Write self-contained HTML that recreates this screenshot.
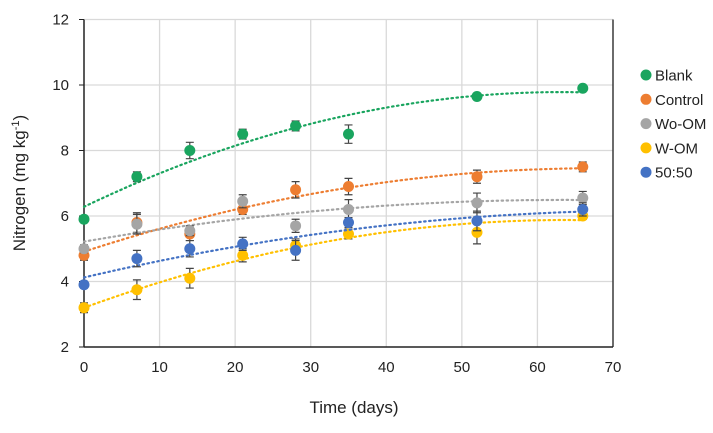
<!DOCTYPE html>
<html><head><meta charset="utf-8"><style>
body{margin:0;background:#fff;font-family:"Liberation Sans",sans-serif}
svg text{font-family:"Liberation Sans",sans-serif;fill:#222}
</style></head><body>
<svg id="chart" width="713" height="428" viewBox="0 0 713 428">
<g id="grid"></g><g id="axes"></g><g id="series"></g><g id="legend"></g>
<text x="354" y="413" font-size="17" text-anchor="middle">Time (days)</text>
<text transform="translate(25,183) rotate(-90)" font-size="17" text-anchor="middle">Nitrogen (mg kg<tspan dy="-6" font-size="11">-1</tspan><tspan dy="6">)</tspan></text>
</svg>
<script>
const days=[0,7,14,21,28,35,52,66];
const seriesNames=["Blank","Control","Wo-OM","W-OM","50:50"];
const colors=["#1aa55f","#ed7d31","#a5a5a5","#ffc000","#4472c4"];
const blank=[5.9,7.2,8.0,8.5,8.75,8.5,9.65,9.9];
const control=[4.8,5.8,5.45,6.2,6.8,6.9,7.2,7.5];
const woOm=[5.0,5.75,5.55,6.45,5.7,6.2,6.4,6.55];
const wOm=[3.2,3.75,4.1,4.8,5.1,5.45,5.5,6.0];
const fifty=[3.9,4.7,5.0,5.15,4.95,5.8,5.85,6.2];
const errBlank=[0.1,0.15,0.25,0.15,0.15,0.28,0.1,0.08];
const errControl=[0.15,0.3,0.2,0.15,0.25,0.25,0.2,0.15];
const errWoOm=[0.12,0.3,0.15,0.2,0.2,0.3,0.3,0.2];
const errWOm=[0.15,0.3,0.3,0.2,0.2,0.15,0.35,0.1];
const errFifty=[0.1,0.25,0.25,0.2,0.3,0.15,0.3,0.2];
const xTicks=[0,10,20,30,40,50,60,70];
const yTicks=[2,4,6,8,10,12];
const allVals=[blank,control,woOm,wOm,fifty];
const allErr=[errBlank,errControl,errWoOm,errWOm,errFifty];
const NS="http://www.w3.org/2000/svg";
const X=v=>84+v*(613-84)/70, Y=v=>347-(v-2)*(347-19.5)/10;
function mk(tag,attrs,parent){const e=document.createElementNS(NS,tag);for(const k in attrs)e.setAttribute(k,attrs[k]);parent.appendChild(e);return e;}
const grid=document.getElementById('grid'),axes=document.getElementById('axes'),ser=document.getElementById('series'),leg=document.getElementById('legend');
xTicks.forEach(t=>{if(t>0){const l=mk('line',{x1:X(t),x2:X(t),y1:Y(12),y2:Y(2),stroke:'#d9d9d9','stroke-width':1.3},grid);

}
const tx=mk('text',{x:X(t),y:372,'font-size':15,'text-anchor':'middle'},axes);tx.textContent=t;

});
yTicks.forEach(t=>{if(t>2){const l=mk('line',{x1:X(0),x2:X(70),y1:Y(t),y2:Y(t),stroke:'#d9d9d9','stroke-width':1.3},grid);

}
mk('line',{x1:X(0)-5,x2:X(0),y1:Y(t),y2:Y(t),stroke:'#222'},axes);
const tx=mk('text',{x:69,y:Y(t)+5,'font-size':15,'text-anchor':'end'},axes);tx.textContent=t;

});
const ya=mk('line',{x1:X(0),x2:X(0),y1:Y(12),y2:Y(2),stroke:'#222','stroke-width':1.5},axes);


const xa=mk('line',{x1:X(0),x2:X(70),y1:Y(2),y2:Y(2),stroke:'#222','stroke-width':1.5},axes);


const rb=mk('line',{x1:X(70),x2:X(70),y1:Y(12),y2:Y(2),stroke:'#222','stroke-width':1.3},axes);


function quadFit(xs,ys){let S=[0,0,0,0,0],T=[0,0,0];xs.forEach((x,i)=>{for(let k=0;k<5;k++)S[k]+=x**k;for(let k=0;k<3;k++)T[k]+=ys[i]*x**k;});
const M=[[S[0],S[1],S[2],T[0]],[S[1],S[2],S[3],T[1]],[S[2],S[3],S[4],T[2]]];
for(let i=0;i<3;i++){for(let j=i+1;j<3;j++){const f=M[j][i]/M[i][i];for(let k=i;k<4;k++)M[j][k]-=f*M[i][k];}}
const c=[0,0,0];for(let i=2;i>=0;i--){let s=M[i][3];for(let k=i+1;k<3;k++)s-=M[i][k]*c[k];c[i]=s/M[i][i];}return x=>c[0]+c[1]*x+c[2]*x*x;}
allVals.forEach((vals,si)=>{const g=mk('g',{},ser);


const f=quadFit(days,vals);let d='';for(let x=0;x<=66;x+=1)d+=(x?'L':'M')+X(x).toFixed(1)+','+Y(f(x)).toFixed(1);
const tl=mk('path',{d:d,fill:'none',stroke:colors[si],'stroke-width':2.2,'stroke-dasharray':'1.5 3.5','stroke-linecap':'round'},g);


vals.forEach((v,i)=>{const e=allErr[si][i],x=X(days[i]);
const eb=mk('path',{d:`M${x},${Y(v-e)}V${Y(v+e)}M${x-4},${Y(v-e)}h8M${x-4},${Y(v+e)}h8`,stroke:'#444','stroke-width':1.2,fill:'none'},g);


const c=mk('circle',{cx:x,cy:Y(v),r:5.5,fill:colors[si]},g);

});
const ly=75+si*24.3;
const lc=mk('circle',{cx:646,cy:ly,r:5.5,fill:colors[si]},leg);


const lt=mk('text',{x:655,y:ly+5.5,'font-size':15},leg);lt.textContent=seriesNames[si];

});
</script>
</body></html>
